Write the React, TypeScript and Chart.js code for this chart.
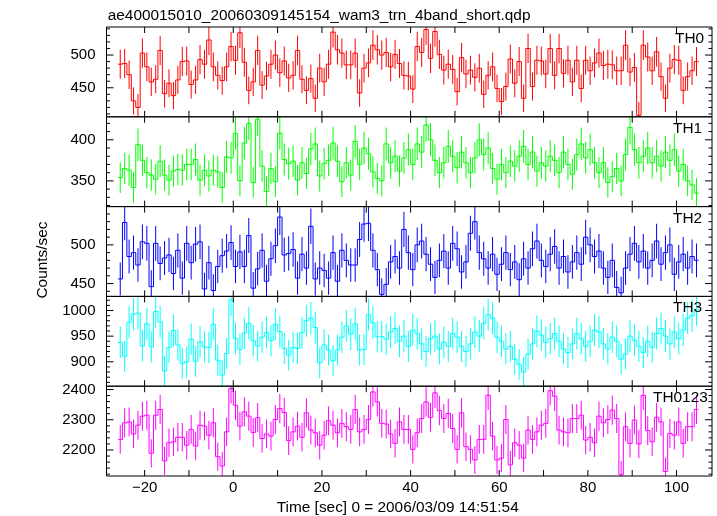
import React, { useEffect, useRef } from 'react';
import { Chart, registerables } from 'chart.js';

Chart.register(...registerables);

const FONT = '"Liberation Sans", Arial, Helvetica, sans-serif';

const TITLE = 'ae400015010_20060309145154_wam3_trn_4band_short.qdp';
const X_TITLE = 'Time [sec] 0 = 2006/03/09 14:51:54';
const Y_TITLE = 'Counts/sec';
const PANEL_NAMES = ['TH0', 'TH1', 'TH2', 'TH3', 'TH0123'];

// 1-s bins, first bin centred at -25.5 s
const FIRST_BIN_CENTER = -25.5;
const BIN_WIDTH = 1;

const th0 = [
  486, 487, 470, 430, 420, 503, 482, 459, 463, 507,
  441, 457, 438, 462, 490, 491, 455, 462, 493, 486,
  523, 482, 469, 461, 482, 513, 492, 534, 489, 446,
  459, 507, 454, 468, 486, 500, 473, 491, 465, 469,
  507, 463, 446, 464, 434, 480, 459, 486, 535, 508,
  503, 485, 485, 503, 442, 480, 488, 515, 508, 500, 504,
  482, 501, 487, 469, 468, 448, 513, 504, 539, 495,
  536, 501, 477, 486, 478, 444, 496, 471, 477, 466,
  480, 440, 469, 482, 449, 429, 452, 494, 457, 490,
  434, 510, 452, 492, 491, 471, 510, 469, 510, 472,
  492, 459, 492, 449, 492, 476, 488, 503, 484, 486,
  485, 476, 476, 515, 474, 481, 408, 515, 497, 476,
  505, 467, 434, 480, 493, 492, 446, 467, 476, 490,
];

const th1 = [
  354, 365, 363, 342, 394, 375, 360, 357, 352, 374,
  357, 351, 362, 364, 363, 370, 370, 376, 351, 363,
  356, 363, 361, 342, 379, 378, 408, 350, 396, 420,
  348, 425, 368, 337, 365, 349, 408, 376, 371, 374,
  351, 372, 359, 389, 395, 356, 371, 375, 396, 374,
  349, 372, 357, 398, 370, 390, 383, 361, 353, 350, 395,
  372, 380, 362, 378, 388, 370, 395, 385, 418, 400,
  375, 360, 372, 392, 380, 366, 385, 372, 360, 378,
  400, 382, 390, 365, 352, 370, 360, 374, 368, 380,
  392, 370, 385, 362, 372, 368, 380, 375, 360, 385,
  370, 358, 382, 395, 378, 388, 372, 360, 372, 348,
  355, 365, 350, 382, 415, 388, 372, 380, 390, 372,
  380, 368, 385, 375, 388, 362, 370, 350, 345, 335,
];

const th2 = [
  456, 529, 485, 490, 474, 504, 502, 446, 502, 476,
  483, 487, 463, 493, 457, 502, 477, 501, 504, 443,
  477, 441, 472, 486, 492, 503, 472, 491, 472, 512,
  444, 469, 493, 453, 482, 499, 536, 487, 489, 494,
  457, 488, 470, 524, 456, 470, 467, 457, 490, 453,
  493, 480, 474, 474, 507, 527, 528, 493, 468, 436, 449,
  478, 485, 470, 520, 490, 468, 500, 505, 488, 475,
  458, 480, 492, 470, 502, 495, 465, 478, 515, 530,
  490, 482, 470, 488, 462, 475, 490, 468, 478, 455,
  482, 470, 495, 505, 480, 472, 488, 498, 470, 485,
  465, 478, 490, 475, 510, 500, 485, 492, 470, 458,
  480, 445, 438, 470, 488, 502, 478, 492, 470, 480,
  505, 475, 490, 500, 462, 478, 488, 470, 485, 480,
];

const th3 = [
  938, 911, 977, 993, 995, 931, 974, 929, 998, 978,
  882, 928, 961, 933, 897, 900, 944, 901, 939, 929,
  928, 973, 903, 874, 916, 1021, 946, 924, 956, 975,
  941, 931, 948, 957, 941, 973, 959, 926, 913, 928,
  926, 957, 980, 985, 967, 898, 933, 923, 902, 923,
  948, 970, 954, 974, 923, 924, 992, 976, 949, 949, 944,
  958, 965, 940, 950, 930, 962, 955, 935, 920, 945,
  950, 925, 938, 930, 955, 948, 930, 920, 935, 958,
  950, 975, 992, 985, 948, 940, 925, 930, 905, 895,
  880, 915, 935, 960, 952, 938, 945, 955, 940, 925,
  918, 935, 955, 945, 930, 940, 962, 958, 935, 925,
  948, 940, 905, 915, 950, 942, 930, 918, 940, 928,
  955, 965, 950, 935, 958, 945, 962, 985, 990, 1002,
];

const th0123 = [
  2235, 2290, 2293, 2253, 2282, 2312, 2315, 2189, 2315, 2334,
  2164, 2224, 2227, 2242, 2242, 2216, 2268, 2213, 2282, 2279,
  2249, 2290, 2178, 2147, 2260, 2403, 2348, 2279, 2326, 2312,
  2258, 2307, 2238, 2253, 2246, 2301, 2337, 2324, 2231, 2260,
  2279, 2242, 2323, 2266, 2257, 2216, 2249, 2297, 2282, 2257,
  2288, 2277, 2268, 2334, 2260, 2268, 2301, 2392, 2359, 2288, 2286,
  2253, 2222, 2293, 2268, 2268, 2202, 2257, 2304, 2359, 2308,
  2389, 2330, 2304, 2321, 2271, 2202, 2323, 2211, 2202, 2167,
  2235, 2235, 2381, 2246, 2167, 2173, 2301, 2151, 2224, 2216,
  2173, 2266, 2235, 2260, 2282, 2288, 2396, 2378, 2266, 2260,
  2257, 2304, 2304, 2315, 2233, 2242, 2224, 2312, 2290, 2301,
  2332, 2304, 2118, 2277, 2222, 2299, 2220, 2381, 2264, 2227,
  2308, 2293, 2129, 2255, 2249, 2293, 2222, 2277, 2277, 2334,
];

const SERIES = [th0, th1, th2, th3, th0123];
const COLORS = ['#ff0000', '#00ff00', '#0000ff', '#00ffff', '#ff00ff'];

const X_MIN = -28.6;
const X_MAX = 108;
const X_TICK_STEP = 10;
const X_LABEL_STEP = 20;

const Y_MIN = [405.7, 318.7, 433.4, 852.4, 2114];
const Y_MAX = [542.8, 428, 549.5, 1027.5, 2411];
const Y_MINOR = [10, 10, 10, 10, 20];
const Y_MAJOR = [50, 50, 50, 50, 100];

const PANEL_LABEL_X = [675, 673, 673, 673, 653];

const Y_IDS = ['y0', 'y1', 'y2', 'y3', 'y4'];

const minus = (v: number) => (v < 0 ? '\u2212' + Math.abs(v) : String(v));

const framePlugin = {
  id: 'qdpFrame',
  afterDraw(chart: any) {
    const ctx = chart.ctx as CanvasRenderingContext2D;
    const { left, right } = chart.chartArea;
    const xs = chart.scales.x;
    ctx.save();
    ctx.strokeStyle = '#000';
    ctx.lineWidth = 1;
    Y_IDS.forEach((id, i) => {
      const s = chart.scales[id];
      const top = s.top;
      const bottom = s.bottom;
      ctx.beginPath();
      ctx.rect(left, top, right - left, bottom - top);
      s.ticks.forEach((t: any) => {
        const y = s.getPixelForValue(t.value);
        const len = Math.abs(t.value % Y_MAJOR[i]) < 1e-6 ? 7 : 3.5;
        ctx.moveTo(left, y);
        ctx.lineTo(left + len, y);
        ctx.moveTo(right, y);
        ctx.lineTo(right - len, y);
      });
      xs.ticks.forEach((t: any) => {
        const x = xs.getPixelForValue(t.value);
        ctx.moveTo(x, top);
        ctx.lineTo(x, top + 6);
        ctx.moveTo(x, bottom);
        ctx.lineTo(x, bottom - 6);
      });
      ctx.stroke();

      ctx.fillStyle = '#000';
      ctx.font = `15.4px ${FONT}`;
      ctx.textAlign = 'left';
      ctx.textBaseline = 'alphabetic';
      ctx.fillText(PANEL_NAMES[i], PANEL_LABEL_X[i], top + 16);
    });

    ctx.fillStyle = '#000';
    ctx.font = `15.4px ${FONT}`;
    ctx.textAlign = 'left';
    ctx.textBaseline = 'alphabetic';
    ctx.fillText(TITLE, 107.7, 20);

    ctx.textAlign = 'center';
    ctx.fillText(X_TITLE, 397.7, 511.5);

    ctx.translate(46.5, 260);
    ctx.rotate(-Math.PI / 2);
    ctx.fillText(Y_TITLE, 0, 0);
    ctx.restore();
  },
};

export default function App() {
  const ref = useRef<HTMLCanvasElement | null>(null);

  useEffect(() => {
    if (!ref.current) return;
    const centers = SERIES[0].map((_, i) => FIRST_BIN_CENTER + i * BIN_WIDTH);

    const datasets: any[] = [];
    SERIES.forEach((vals, i) => {
      const step = [
        { x: centers[0] - BIN_WIDTH / 2, y: vals[0] },
        ...vals.map((v, k) => ({ x: centers[k], y: v })),
        { x: centers[vals.length - 1] + BIN_WIDTH / 2, y: vals[vals.length - 1] },
      ];
      datasets.push({
        type: 'line',
        data: step,
        xAxisID: 'x',
        yAxisID: Y_IDS[i],
        borderColor: COLORS[i],
        borderWidth: 1,
        pointRadius: 0,
        stepped: 'middle',
        fill: false,
        tension: 0,
        clip: 0,
      });
      datasets.push({
        type: 'bar',
        data: vals.map((v, k) => {
          const err = Math.sqrt(v); // Poisson error of 1-s counts
          return { x: centers[k], y: [v - err, v + err] };
        }),
        xAxisID: 'x',
        yAxisID: Y_IDS[i],
        backgroundColor: COLORS[i],
        borderWidth: 0,
        barThickness: 1,
        grouped: false,
        inflateAmount: 0,
        clip: 0,
      });
    });

    const scales: any = {
      x: {
        type: 'linear',
        position: 'bottom',
        min: X_MIN,
        max: X_MAX,
        offset: false,
        grid: { display: false, drawTicks: false },
        border: { display: false },
        ticks: {
          stepSize: X_TICK_STEP,
          includeBounds: false,
          autoSkip: false,
          maxRotation: 0,
          minRotation: 0,
          padding: 3,
          color: '#000',
          font: { family: FONT, size: 15 },
          callback: (v: any) => (Math.abs(v % X_LABEL_STEP) < 1e-6 ? minus(v) : ''),
        },
        afterFit: (s: any) => {
          s.height = 40;
        },
      },
    };
    Y_IDS.forEach((id, i) => {
      scales[id] = {
        type: 'linear',
        position: 'left',
        stack: 'panels',
        stackWeight: 1,
        weight: 10 - i,
        min: Y_MIN[i],
        max: Y_MAX[i],
        grid: { display: false, drawTicks: false },
        border: { display: false },
        ticks: {
          stepSize: Y_MINOR[i],
          includeBounds: false,
          autoSkip: false,
          padding: 11,
          color: '#000',
          font: { family: FONT, size: 15 },
          callback: (v: any) => (Math.abs(v % Y_MAJOR[i]) < 1e-6 ? String(v) : ''),
        },
        afterFit: (s: any) => {
          s.width = 106.5;
        },
      };
    });

    const chart = new Chart(ref.current, {
      type: 'line',
      data: { datasets },
      options: {
        responsive: false,
        animation: false,
        devicePixelRatio: 1,
        layout: { padding: { top: 27, right: 5, left: 0, bottom: 0 } },
        plugins: {
          legend: { display: false },
          tooltip: { enabled: false },
          title: { display: false },
        },
        scales,
      } as any,
      plugins: [framePlugin],
    });
    return () => chart.destroy();
  }, []);

  return (
    <div style={{ position: 'fixed', left: 0, top: 0, width: 717, height: 516, background: '#fff' }}>
      <canvas ref={ref} width={717} height={516} style={{ display: 'block' }} />
    </div>
  );
}
